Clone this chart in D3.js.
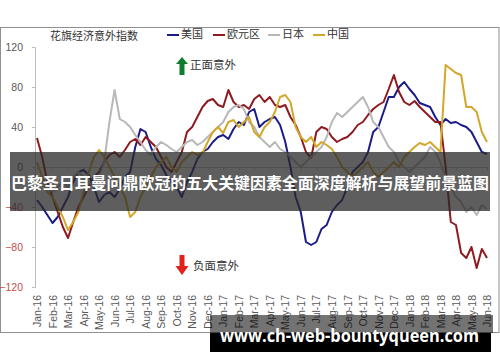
<!DOCTYPE html>
<html><head><meta charset="utf-8">
<script src="https://cdn.jsdelivr.net/npm/d3@7"></script>
<style>body{margin:0;background:#fff}svg{display:block}</style>
</head><body>
<script>
const months = ["Jan-16","Feb-16","Mar-16","Apr-16","May-16","Jun-16","Jul-16","Aug-16","Sep-16","Oct-16","Nov-16","Dec-16",
  "Jan-17","Feb-17","Mar-17","Apr-17","May-17","Jun-17","Jul-17","Aug-17","Sep-17","Oct-17","Nov-17","Dec-17",
  "Jan-18","Feb-18","Mar-18","Apr-18","May-18","Jun-18"];
const yTicks = [120, 80, 40, 0, -40, -80, -120];
const seriesNames = ["美国", "欧元区", "日本", "中国"];
const seriesColors = ["#1c1c86", "#8e1b1f", "#b8b8b8", "#d2a72a"];
// three readings per month (start, 1/3, 2/3), last point = Jun-18
const usData = [
  -33,-40,-48, -56,-50,-40, -30,-15,-5, -3,-8,-20, -35,-28,-25, -30,-22,-10,
  -5,20,38, 35,20,8, 2,-8,-15, -20,-30,-15, -5,8,15, 18,25,30,
  32,28,38, 45,42,55, 58,40,45, 48,50,42, 25,0,-30, -45,-75,-78,
  -75,-62,-58, -45,-38,-33, -20,-5,0, 5,15,35, 40,55,70, 70,80,85,
  78,72,64, 62,60,50, 42,48,44, 45,42,40, 35,25,15, 13];
const euData = [
  29,10,-15, -30,-45,-60, -71,-55,-40, -30,-20,-10, -5,5,12, 15,10,17,
  25,28,22, 30,25,20, 10,0,-5, 5,15,35, 40,50,60, 66,68,62,
  60,77,65, 60,62,58, 68,72,65, 70,62,60, 62,50,42, 30,15,9,
  35,40,38, 30,25,28, 30,35,42, 45,52,58, 62,65,78, 92,75,65,
  62,66,60, 55,50,45, 45,0,-55, -58,-86,-91, -80,-101,-82, -91];
const jpData = [
  -10,-15,-20, -25,-20,-15, -20,-10,-5, -10,-15,-20, -10,5,45, 77,48,45,
  40,32,25, 17,12,20, 25,22,18, 15,20,25, 27,22,25, 30,35,40,
  45,55,60, 62,58,45, 40,30,25, 20,25,18, 15,10,5, 0,5,10,
  15,20,30, 45,54,50, 55,60,65, 70,60,45, 40,30,20, 15,5,0,
  -5,0,5, 10,20,15, 5,-10,-20, -30,-35,-45, -40,-48,-38, -42];
const cnData = [
  5,-10,-25, -30,-40,-50, -63,-55,-45, -25,-5,10, 17,10,0, -10,-20,-30,
  -50,-45,-30, -20,-10,0, 5,10,0, -5,5,10, 15,12,14, 25,35,40,
  34,45,47, 40,45,50, 35,30,40, 45,55,70, 72,65,40, 30,25,30,
  20,25,22, 18,10,0, -5,-10,-5, 0,5,-5, -10,-5,0, 5,0,10,
  15,20,24, 22,25,20, 15,102,98, 94,92,60, 60,55,35, 25];
const allSeries = [usData, euData, jpData, cnData];

const W = 500, H = 362;
const svg = d3.select("body").append("svg").attr("width", W).attr("height", H)
  .style("font-family", "'Liberation Sans', Arial, sans-serif");
svg.append("rect").attr("width", W).attr("height", H).attr("fill", "#fff");
svg.append("rect").attr("x", 0.5).attr("y", 27.5).attr("width", 498.5).attr("height", 305)
  .attr("fill", "none").attr("stroke", "#8f8f8f");

const x = d3.scaleLinear().domain([0, months.length - 1]).range([37, 487]);
const y = d3.scaleLinear().domain([-120, 120]).range([287, 47]);

// y axis
const gy = svg.append("g").attr("transform", "translate(35,0)")
  .call(d3.axisLeft(y).tickValues(yTicks).tickSize(3).tickSizeOuter(3).tickPadding(9));
gy.select(".domain").attr("stroke", "#bdbdbd");
gy.selectAll(".tick line").attr("stroke", "#bdbdbd");
gy.selectAll(".tick text").attr("font-size", 10.5)
  .attr("fill", d => d < 0 ? "#c0504d" : "#595959");

// zero axis
const gx = svg.append("g").attr("transform", `translate(0,${y(0)})`)
  .call(d3.axisBottom(x).tickValues(d3.range(months.length)).tickFormat("").tickSize(3).tickSizeOuter(0));
gx.select(".domain").attr("stroke", "#c8c8c8");
gx.selectAll(".tick line").attr("stroke", "#c8c8c8");

// month labels
const gm = svg.append("g").attr("transform", "translate(0,292)")
  .call(d3.axisBottom(x).tickValues(d3.range(months.length)).tickFormat(i => months[i]).tickSize(0));
gm.select(".domain").remove();
gm.selectAll(".tick text").attr("font-size", 10.5).attr("fill", "#595959")
  .attr("transform", "rotate(-90)").attr("text-anchor", "end")
  .attr("x", -3).attr("y", 0).attr("dy", "0.35em");

// lines
const line = d3.line().x((d, i) => x(i / 3)).y(d => y(d)).curve(d3.curveLinear);
allSeries.forEach((s, k) => {
  svg.append("path").datum(s).attr("d", line).attr("fill", "none")
    .attr("stroke", seriesColors[k]).attr("stroke-width", 2).attr("stroke-linejoin", "round");
});

// title & legend
const cjk = "'Noto Sans CJK SC', 'Noto Sans CJK JP', sans-serif";
svg.append("text").attr("x", 50).attr("y", 37).attr("dominant-baseline", "middle")
  .attr("font-family", cjk).attr("font-size", 11).attr("fill", "#333").text("花旗经济意外指数");
const legX = [167, 213, 268, 313];
seriesNames.forEach((n, k) => {
  svg.append("line").attr("x1", legX[k]).attr("x2", legX[k] + 12).attr("y1", 35).attr("y2", 35)
    .attr("stroke", seriesColors[k]).attr("stroke-width", 2);
  svg.append("text").attr("x", legX[k] + 14).attr("y", 35).attr("dominant-baseline", "middle")
    .attr("font-family", cjk).attr("font-size", 11).attr("fill", "#333").text(n);
});

// annotations
svg.append("path").attr("d", "M182,57 L188,64 L184.5,64 L184.5,75 L179.5,75 L179.5,64 L176,64 Z").attr("fill", "#0f7d2e");
svg.append("text").attr("x", 190).attr("y", 66).attr("dominant-baseline", "middle")
  .attr("font-family", cjk).attr("font-size", 11.5).attr("fill", "#333").text("正面意外");
svg.append("path").attr("d", "M179.5,255 L184.5,255 L184.5,266 L188.5,266 L182,275 L175.5,266 L179.5,266 Z").attr("fill", "#e3211c");
svg.append("text").attr("x", 193).attr("y", 267).attr("dominant-baseline", "middle")
  .attr("font-family", cjk).attr("font-size", 11.5).attr("fill", "#333").text("负面意外");

// overlay banner
svg.append("rect").attr("x", 10).attr("y", 152).attr("width", 480).attr("height", 59)
  .attr("fill", "rgba(40,40,40,0.75)");
svg.append("text").attr("x", 11).attr("y", 185).attr("dominant-baseline", "middle")
  .attr("font-family", cjk).attr("font-weight", "bold").attr("font-size", 16).attr("fill", "#fff")
  .attr("textLength", 478).attr("lengthAdjust", "spacingAndGlyphs")
  .text("巴黎圣日耳曼问鼎欧冠的五大关键因素全面深度解析与展望前景蓝图");

// watermark box
svg.append("rect").attr("x", 210).attr("y", 315).attr("width", 283).attr("height", 18).attr("fill", "rgba(0,0,0,0.55)");
svg.append("rect").attr("x", 210).attr("y", 333).attr("width", 281).attr("height", 19).attr("fill", "#000");
svg.append("text").attr("x", 220).attr("y", 342)
  .attr("font-family", "'Open Sans', 'Noto Sans', sans-serif").attr("font-weight", "bold").attr("font-size", 18)
  .attr("fill", "#fff").attr("textLength", 259).attr("lengthAdjust", "spacingAndGlyphs")
  .text("www.ch-web-bountyqueen.com");
</script>
</body></html>
